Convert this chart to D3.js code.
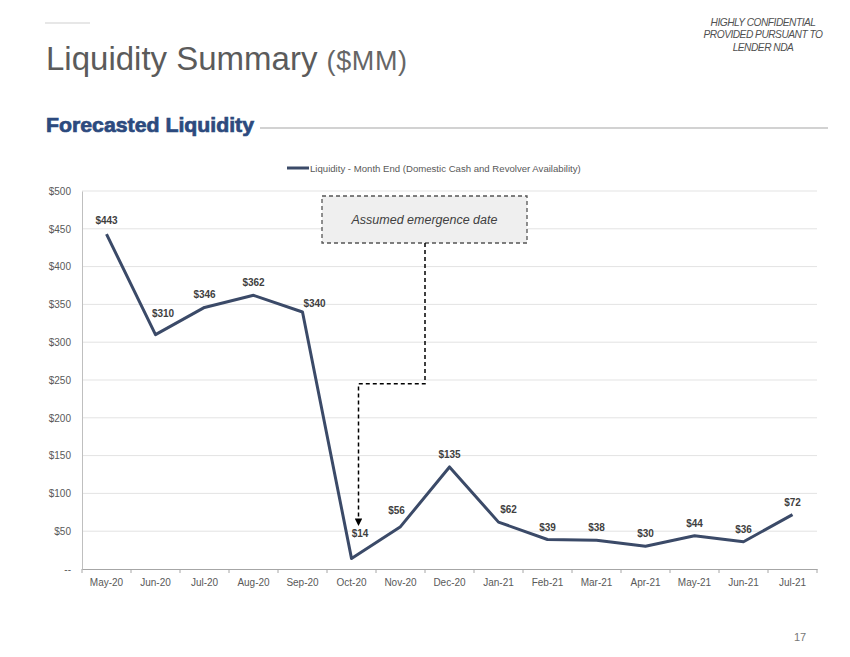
<!DOCTYPE html>
<html><head><meta charset="utf-8">
<script src="https://cdn.jsdelivr.net/npm/d3@7"></script>
<style>
body{margin:0;background:#fff;}
svg{display:block;}
</style></head>
<body>
<svg id="c" width="850" height="657"></svg>
<script>
const months = ["May-20","Jun-20","Jul-20","Aug-20","Sep-20","Oct-20","Nov-20","Dec-20","Jan-21","Feb-21","Mar-21","Apr-21","May-21","Jun-21","Jul-21"];
const liquidity = [443,310,346,362,340,14,56,135,62,39,38,30,44,36,72];
const yTicks = [0,50,100,150,200,250,300,350,400,450,500];
const seriesName = "Liquidity - Month End (Domestic Cash and Revolver Availability)";
const annotationText = "Assumed emergence date";
const emergenceMonth = "Oct-20";

const svg = d3.select("#c");
const lineColor = "#3b4a68";
const sans = "'Liberation Sans', Arial, sans-serif";

// header
svg.append("line").attr("x1",45).attr("x2",90).attr("y1",23).attr("y2",23).attr("stroke","#cfcfcf").attr("stroke-width",1);
const title = svg.append("text").attr("x",46).attr("y",70).attr("fill","#5b5b5b")
  .style("font-family",sans).style("font-weight",400);
title.append("tspan").text("Liquidity Summary ").style("font-size","33px");
title.append("tspan").text("($MM)").style("font-size","27px").attr("fill","#666").style("letter-spacing","0.6px");

const conf = ["HIGHLY CONFIDENTIAL","PROVIDED PURSUANT TO","LENDER NDA"];
svg.selectAll("text.conf").data(conf).join("text").attr("class","conf")
  .attr("x",763).attr("y",(d,i)=>26+i*12.3).attr("text-anchor","middle")
  .attr("fill","#505050").style("font-family",sans).style("font-style","italic").style("font-size","10.2px")
  .style("letter-spacing","-0.5px").text(d=>d);

svg.append("text").attr("x",46).attr("y",132).text("Forecasted Liquidity")
  .attr("fill","#2c4a7e").attr("stroke","#2c4a7e").attr("stroke-width",0.7)
  .attr("textLength",208).attr("lengthAdjust","spacingAndGlyphs")
  .style("font-family",sans).style("font-weight",700).style("font-size","21px");
svg.append("line").attr("x1",260).attr("x2",828).attr("y1",128).attr("y2",128).attr("stroke","#a6a6a6").attr("stroke-width",1.2);

svg.append("text").attr("x",800).attr("y",641).attr("text-anchor","middle").attr("fill","#777")
  .style("font-family",sans).style("font-size","11px").text("17");

// chart
const x = d3.scaleBand().domain(months).range([82,817]);
const y = d3.scaleLinear().domain([0,500]).range([569,191]);
const cxOf = m => x(m) + x.bandwidth()/2;

svg.append("g").selectAll("line").data(yTicks.filter(d=>d>0)).join("line")
  .attr("x1",82).attr("x2",817).attr("y1",d=>y(d)).attr("y2",d=>y(d))
  .attr("stroke","#e3e3e3").attr("stroke-width",1);

const yAxis = svg.append("g").attr("transform","translate(82,0)")
  .call(d3.axisLeft(y).tickValues(yTicks).tickSize(0).tickPadding(11)
    .tickFormat(d=>d===0?"--":"$"+d));
yAxis.select(".domain").attr("stroke","#bfbfbf");
yAxis.selectAll("text").attr("fill","#595959").style("font-family",sans).style("font-size","10px");

const xAxis = svg.append("g").attr("transform","translate(0,569)")
  .call(d3.axisBottom(x).tickSizeOuter(0).tickSize(0).tickPadding(10));
xAxis.select(".domain").attr("stroke","#a6a6a6");
xAxis.selectAll("text").attr("fill","#595959").style("font-family",sans).style("font-size","10px");
svg.append("g").selectAll("line").data(months.concat(["end"])).join("line")
  .attr("x1",(d,i)=>82+i*x.step()).attr("x2",(d,i)=>82+i*x.step())
  .attr("y1",569).attr("y2",573).attr("stroke","#a6a6a6");

// legend
svg.append("line").attr("x1",287).attr("x2",309).attr("y1",168).attr("y2",168).attr("stroke",lineColor).attr("stroke-width",3);
svg.append("text").attr("x",310).attr("y",171.5).text(seriesName).attr("fill","#595959")
  .style("font-family",sans).style("font-size","9.6px");

// annotation
const cx = x("Dec-20");
const bx0 = cx - 103, bx1 = cx + 102;
svg.append("rect").attr("x",bx0).attr("y",196).attr("width",bx1-bx0).attr("height",47)
  .attr("fill","#efefef").attr("stroke","#555").attr("stroke-width",1.3).attr("stroke-dasharray","4,3");
svg.append("text").attr("x",(bx0+bx1)/2).attr("y",224).attr("text-anchor","middle")
  .attr("fill","#404040").style("font-family",sans).style("font-style","italic").style("font-size","12.5px").text(annotationText);
svg.append("defs").append("marker").attr("id","arr").attr("viewBox","0 0 10 10").attr("refX",8).attr("refY",5)
  .attr("markerWidth",5).attr("markerHeight",5).attr("orient","auto")
  .append("path").attr("d","M0,0L10,5L0,10z").attr("fill","#000");
const ax = cxOf(emergenceMonth) + 7;
svg.append("path").attr("d",`M${cx},243 V${y(245)} H${ax} V${y(59)}`)
  .attr("fill","none").attr("stroke","#000").attr("stroke-width",1.5).attr("stroke-dasharray","4,3")
  .attr("marker-end","url(#arr)");

// line
const line = d3.line().x((d,i)=>cxOf(months[i])).y(d=>y(d));
svg.append("path").datum(liquidity).attr("d",line).attr("fill","none")
  .attr("stroke",lineColor).attr("stroke-width",3).attr("stroke-linejoin","round");

// label nudges (dx, dy from the point), default sits just above
const nudge = {"Jun-20":[7.5,-18],"Sep-20":[12,-4.5],"Oct-20":[8.5,-21],"Nov-20":[-4,-13],"Jan-21":[10,-9],"May-20":[0,-10]};
svg.append("g").selectAll("text").data(liquidity).join("text")
  .attr("x",(d,i)=>cxOf(months[i]) + (nudge[months[i]]||[0,-9])[0])
  .attr("y",(d,i)=>y(d) + (nudge[months[i]]||[0,-9])[1]).attr("text-anchor","middle")
  .attr("fill","#3f3f3f").style("font-family",sans).style("font-weight","bold").style("font-size","10px")
  .text(d=>"$"+d);
</script>
</body></html>
